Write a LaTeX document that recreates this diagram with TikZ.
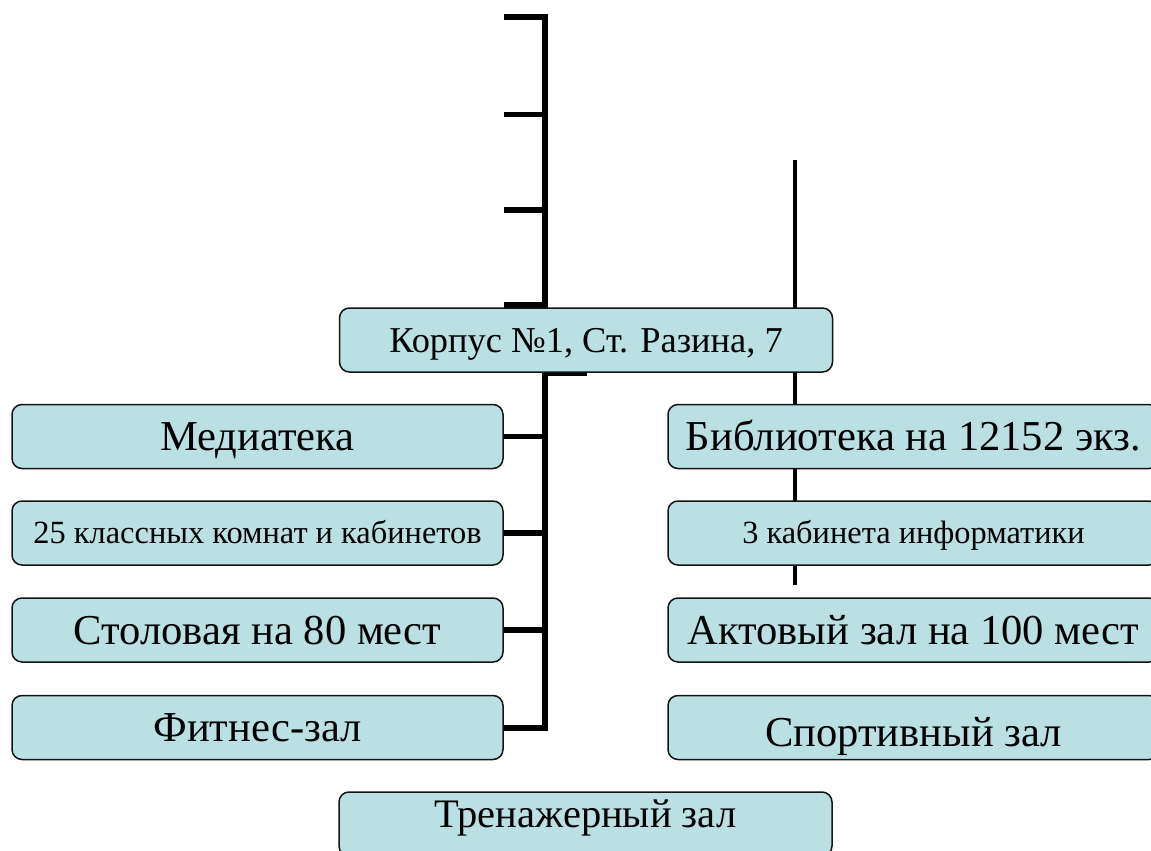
\documentclass[tikz,border=0pt]{standalone}
\usepackage{fontspec}
\setmainfont{Liberation Serif}
\definecolor{boxfill}{RGB}{186,224,228}
\definecolor{boxline}{RGB}{20,20,20}
\pgfdeclarelayer{bg}
\pgfsetlayers{bg,main}
\begin{document}
\begin{tikzpicture}[x=1pt,y=-1pt,
  box/.style={draw=boxline, line width=1.5pt, fill=boxfill, rounded corners=10pt, inner sep=0pt, minimum height=64pt, align=center},
  lw/.style={box, minimum width=491pt},
  big/.style={font=\fontsize{42.6}{42.6}\selectfont, text height=28pt, text depth=0pt},
  mid/.style={font=\fontsize{36.4}{36.4}\selectfont, text height=24pt, text depth=0pt},
  sml/.style={font=\fontsize{32.4}{32.4}\selectfont, text height=21pt, text depth=0pt},
  trunk/.style={line width=6pt, line join=miter, line cap=butt},
  tick/.style={line width=5.5pt, line cap=butt},
  thin/.style={line width=4.5pt, line cap=butt}
]
\useasboundingbox (0,0) rectangle (1151,851);
\clip (0,0) rectangle (1151,851);

\node[box, minimum width=493pt, mid] (korp) at (586,340) {Корпус №1, Ст. Разина, 7};

\node[lw,big] (med)  at (257.5,436.5) {Медиатека};
\node[lw,sml] (kl)   at (257.5,533)   {25 классных комнат и кабинетов};
\node[lw,big] (stol) at (257.5,630)   {Столовая на 80 мест};
\node[lw,big] (fit)  at (257.5,727.5) {Фитнес-зал};

\node[lw,big] (bib)   at (913.5,436.5) {Библиотека на 12152 экз.};
\node[lw,sml] (inf)   at (913.5,533)   {3 кабинета информатики};
\node[lw,big] (akt)   at (913.5,630)   {Актовый зал на 100 мест};
\node[lw,big, text height=37pt] (sport) at (913.5,727.5) {Спортивный зал};

\node[box, minimum width=493pt, font=\fontsize{40.5}{40.5}\selectfont, text height=27pt, text depth=21pt] (tren) at (585.5,824) {Тренажерный зал};

\coordinate (a1) at (504,17);
\coordinate (ttop) at (545,17);
\coordinate (a2) at (504,114.5);
\coordinate (a3) at (504,210);
\coordinate (a4) at (504,305);
\coordinate (s1) at (587,374);
\coordinate (r1) at (795,160);
\coordinate (r2) at (795,585);

\begin{pgfonlayer}{bg}
\draw[trunk] (a1) -- (ttop) -- (ttop |- fit.east) -- (fit.east);
\draw[tick] (a2) -- (a2 -| ttop);
\draw[tick] (a3) -- (a3 -| ttop);
\draw[tick] (a4) -- (a4 -| ttop);
\draw[tick] (med.east) -- (med.east -| ttop);
\draw[tick] (kl.east) -- (kl.east -| ttop);
\draw[tick] (stol.east) -- (stol.east -| ttop);
\draw[line width=4pt] (s1 -| ttop) -- (s1);
\draw[thin] (r1) -- (r2);
\end{pgfonlayer}
\end{tikzpicture}
\end{document}
